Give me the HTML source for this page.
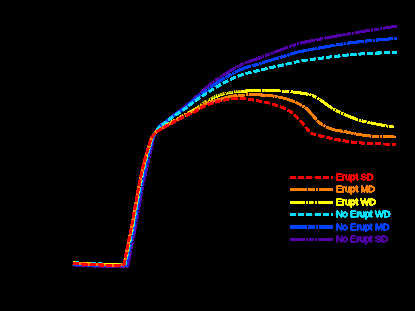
<!DOCTYPE html>
<html><head><meta charset="utf-8"><style>
html,body{margin:0;padding:0;background:#000;}
body{width:415px;height:311px;overflow:hidden;}
svg{display:block;}
text{font-family:"Liberation Sans",sans-serif;font-size:9.25px;}
</style></head><body>
<svg width="415" height="311" viewBox="0 0 415 311">
<defs><filter id="sat" filterUnits="userSpaceOnUse" x="0" y="0" width="415" height="311" color-interpolation-filters="sRGB"><feComponentTransfer><feFuncA type="linear" slope="10" intercept="0"/></feComponentTransfer></filter><filter id="sat2" filterUnits="userSpaceOnUse" x="0" y="0" width="415" height="311" color-interpolation-filters="sRGB"><feComponentTransfer><feFuncA type="linear" slope="6" intercept="0"/></feComponentTransfer></filter></defs>
<rect width="415" height="311" fill="#000"/>
<path d="M73.50,264.80 C76.25,264.97 84.75,265.52 90.00,265.80 C95.25,266.08 100.33,266.38 105.00,266.50 C109.67,266.62 114.20,266.53 118.00,266.50 C121.80,266.47 126.17,266.33 127.80,266.30 L127.80,266.30 C128.47,262.75 130.47,251.88 131.80,245.00 C133.13,238.12 134.33,232.83 135.80,225.00 C137.27,217.17 139.23,205.50 140.60,198.00 C141.97,190.50 142.75,186.00 144.00,180.00 C145.25,174.00 146.82,167.50 148.10,162.00 C149.38,156.50 150.80,151.00 151.70,147.00 C152.60,143.00 152.87,140.47 153.50,138.00 C154.13,135.53 154.42,134.23 155.50,132.20 C156.58,130.17 158.33,127.52 160.00,125.80 C161.67,124.08 163.67,123.33 165.50,121.90 C167.33,120.47 168.75,118.97 171.00,117.20 C173.25,115.43 176.53,113.17 179.00,111.30 C181.47,109.43 183.97,107.52 185.80,106.00 C187.63,104.48 187.75,104.22 190.00,102.20 C192.25,100.18 196.15,96.67 199.30,93.90 C202.45,91.13 205.45,88.38 208.90,85.60 C212.35,82.82 214.72,80.63 220.00,77.20 C225.28,73.77 233.93,68.27 240.60,65.00 C247.27,61.73 251.27,60.85 260.00,57.60 C268.73,54.35 285.50,48.08 293.00,45.50 C300.50,42.92 295.50,44.08 305.00,42.10 C314.50,40.12 334.75,36.25 350.00,33.60 C365.25,30.95 388.75,27.43 396.50,26.20" fill="none" stroke="#5500aa" stroke-width="2.2" stroke-dasharray="14.6 1.5 1.4 1.5 4.2 1.9 1.4 1.5" stroke-linejoin="round" filter="url(#sat)"/>
<path d="M73.50,264.10 C76.25,264.27 84.75,264.82 90.00,265.10 C95.25,265.38 100.33,265.68 105.00,265.80 C109.67,265.92 114.45,265.83 118.00,265.80 C121.55,265.77 124.92,265.63 126.30,265.60 L126.30,265.60 C126.97,262.17 128.97,251.77 130.30,245.00 C131.63,238.23 132.83,232.83 134.30,225.00 C135.77,217.17 137.73,205.50 139.10,198.00 C140.47,190.50 141.25,186.00 142.50,180.00 C143.75,174.00 145.27,167.50 146.60,162.00 C147.93,156.50 149.47,151.00 150.50,147.00 C151.53,143.00 151.92,140.43 152.75,138.00 C153.58,135.57 154.29,134.38 155.50,132.40 C156.71,130.42 158.33,127.78 160.00,126.10 C161.67,124.42 163.67,123.70 165.50,122.30 C167.33,120.90 168.75,119.43 171.00,117.70 C173.25,115.97 176.53,113.68 179.00,111.90 C181.47,110.12 183.97,108.43 185.80,107.00 C187.63,105.57 187.75,105.17 190.00,103.30 C192.25,101.43 196.15,98.25 199.30,95.80 C202.45,93.35 204.83,91.47 208.90,88.60 C212.97,85.73 218.42,81.77 223.70,78.60 C228.98,75.43 234.55,72.12 240.60,69.60 C246.65,67.08 251.27,66.18 260.00,63.50 C268.73,60.82 285.50,55.65 293.00,53.50 C300.50,51.35 295.50,52.37 305.00,50.60 C314.50,48.83 334.75,44.97 350.00,42.90 C365.25,40.83 388.75,38.98 396.50,38.20" fill="none" stroke="#0040ff" stroke-width="2.3" stroke-dasharray="16.6 1.5 6.4 1.5 1.5 1.5" stroke-linejoin="round" filter="url(#sat)"/>
<path d="M73.50,262.50 C76.25,262.67 84.75,263.22 90.00,263.50 C95.25,263.78 100.33,264.08 105.00,264.20 C109.67,264.32 114.65,264.23 118.00,264.20 C121.35,264.17 123.92,264.03 125.10,264.00 L125.10,264.00 C125.77,260.83 127.77,251.50 129.10,245.00 C130.43,238.50 131.63,232.83 133.10,225.00 C134.57,217.17 136.53,205.50 137.90,198.00 C139.27,190.50 140.05,186.00 141.30,180.00 C142.55,174.00 144.03,167.50 145.40,162.00 C146.77,156.50 148.42,151.00 149.54,147.00 C150.67,143.00 151.16,140.40 152.15,138.00 C153.14,135.60 154.19,134.53 155.50,132.60 C156.81,130.67 158.33,128.05 160.00,126.40 C161.67,124.75 163.67,124.07 165.50,122.70 C167.33,121.33 168.75,119.87 171.00,118.20 C173.25,116.53 176.53,114.37 179.00,112.70 C181.47,111.03 183.97,109.52 185.80,108.20 C187.63,106.88 187.75,106.50 190.00,104.80 C192.25,103.10 196.15,100.17 199.30,98.00 C202.45,95.83 204.83,94.30 208.90,91.80 C212.97,89.30 218.42,85.77 223.70,83.00 C228.98,80.23 234.55,77.33 240.60,75.20 C246.65,73.07 251.27,72.28 260.00,70.20 C268.73,68.12 285.50,64.35 293.00,62.70 C300.50,61.05 295.50,61.62 305.00,60.30 C314.50,58.98 334.75,56.15 350.00,54.80 C365.25,53.45 388.75,52.63 396.50,52.20" fill="none" stroke="#00e0ff" stroke-width="2.2" stroke-dasharray="5.5 2.72" stroke-linejoin="round" filter="url(#sat)"/>
<path d="M73.50,262.90 C76.25,263.07 84.75,263.62 90.00,263.90 C95.25,264.18 100.33,264.48 105.00,264.60 C109.67,264.72 114.78,264.63 118.00,264.60 C121.22,264.57 123.25,264.43 124.30,264.40 L124.30,264.40 C124.97,261.17 126.97,251.57 128.30,245.00 C129.63,238.43 130.83,232.83 132.30,225.00 C133.77,217.17 135.73,205.50 137.10,198.00 C138.47,190.50 139.25,186.00 140.50,180.00 C141.75,174.00 143.20,167.50 144.60,162.00 C146.00,156.50 147.71,151.00 148.90,147.00 C150.09,143.00 150.65,140.42 151.75,138.00 C152.85,135.58 154.12,133.95 155.50,132.50 C156.88,131.05 158.05,130.58 160.00,129.30 C161.95,128.02 163.48,127.02 167.20,124.80 C170.92,122.58 177.67,118.55 182.30,116.00 C186.93,113.45 190.88,112.03 195.00,109.50 C199.12,106.97 202.83,103.23 207.00,100.80 C211.17,98.37 215.17,96.42 220.00,94.90 C224.83,93.38 229.37,92.45 236.00,91.70 C242.63,90.95 251.42,90.45 259.80,90.40 C268.18,90.35 278.35,90.78 286.30,91.40 C294.25,92.02 302.17,92.90 307.50,94.10 C312.83,95.30 314.30,96.30 318.30,98.60 C322.30,100.90 327.08,105.25 331.50,107.90 C335.92,110.55 340.38,112.52 344.80,114.50 C349.22,116.48 353.58,118.38 358.00,119.80 C362.42,121.22 366.87,122.03 371.30,123.00 C375.73,123.97 380.62,124.90 384.60,125.60 C388.58,126.30 393.43,126.93 395.20,127.20" fill="none" stroke="#ffff00" stroke-width="2.2" stroke-dasharray="14.6 1.5 1.4 1.5 4.2 1.9 1.4 1.5" stroke-linejoin="round" filter="url(#sat)"/>
<path d="M73.50,263.30 C76.25,263.47 84.75,264.02 90.00,264.30 C95.25,264.58 100.33,264.88 105.00,265.00 C109.67,265.12 114.83,265.03 118.00,265.00 C121.17,264.97 123.00,264.83 124.00,264.80 L124.00,264.80 C124.67,261.50 126.67,251.63 128.00,245.00 C129.33,238.37 130.53,232.83 132.00,225.00 C133.47,217.17 135.43,205.50 136.80,198.00 C138.17,190.50 138.95,186.00 140.20,180.00 C141.45,174.00 142.89,167.50 144.30,162.00 C145.71,156.50 147.44,151.00 148.66,147.00 C149.88,143.00 150.46,140.38 151.60,138.00 C152.74,135.62 154.10,134.12 155.50,132.70 C156.90,131.28 158.05,130.75 160.00,129.50 C161.95,128.25 163.48,127.33 167.20,125.20 C170.92,123.07 177.67,119.15 182.30,116.70 C186.93,114.25 190.88,112.73 195.00,110.50 C199.12,108.27 202.83,105.15 207.00,103.30 C211.17,101.45 215.17,100.67 220.00,99.40 C224.83,98.13 229.37,96.45 236.00,95.70 C242.63,94.95 252.30,94.60 259.80,94.90 C267.30,95.20 274.80,96.17 281.00,97.50 C287.20,98.83 292.58,100.90 297.00,102.90 C301.42,104.90 304.83,107.35 307.50,109.50 C310.17,111.65 310.75,113.42 313.00,115.80 C315.25,118.18 317.92,121.60 321.00,123.80 C324.08,126.00 327.53,127.68 331.50,129.00 C335.47,130.32 340.38,130.80 344.80,131.70 C349.22,132.60 353.58,133.65 358.00,134.40 C362.42,135.15 365.10,135.77 371.30,136.20 C377.50,136.63 391.22,136.87 395.20,137.00" fill="none" stroke="#ff8000" stroke-width="2.2" stroke-dasharray="16.6 1.5 6.4 1.5 1.5 1.5" stroke-linejoin="round" filter="url(#sat)"/>
<path d="M73.50,263.50 C76.25,263.67 84.75,264.22 90.00,264.50 C95.25,264.78 100.33,265.08 105.00,265.20 C109.67,265.32 114.87,265.23 118.00,265.20 C121.13,265.17 122.83,265.03 123.80,265.00 L123.80,265.00 C124.47,261.67 126.47,251.67 127.80,245.00 C129.13,238.33 130.33,232.83 131.80,225.00 C133.27,217.17 135.23,205.50 136.60,198.00 C137.97,190.50 138.75,186.00 140.00,180.00 C141.25,174.00 142.68,167.50 144.10,162.00 C145.52,156.50 147.27,151.00 148.50,147.00 C149.73,143.00 150.33,140.33 151.50,138.00 C152.67,135.67 154.08,134.37 155.50,133.00 C156.92,131.63 158.05,131.00 160.00,129.80 C161.95,128.60 163.48,127.85 167.20,125.80 C170.92,123.75 177.67,119.88 182.30,117.50 C186.93,115.12 190.88,113.58 195.00,111.50 C199.12,109.42 202.83,106.75 207.00,105.00 C211.17,103.25 215.17,102.12 220.00,101.00 C224.83,99.88 230.25,98.43 236.00,98.30 C241.75,98.17 248.33,99.22 254.50,100.20 C260.67,101.18 267.25,102.43 273.00,104.20 C278.75,105.97 284.57,108.17 289.00,110.80 C293.43,113.43 296.52,116.90 299.60,120.00 C302.68,123.10 305.43,127.13 307.50,129.40 C309.57,131.67 310.25,132.58 312.00,133.60 C313.75,134.62 314.75,134.70 318.00,135.50 C321.25,136.30 327.03,137.48 331.50,138.40 C335.97,139.32 340.38,140.30 344.80,141.00 C349.22,141.70 353.58,142.15 358.00,142.60 C362.42,143.05 365.10,143.43 371.30,143.70 C377.50,143.97 391.22,144.12 395.20,144.20" fill="none" stroke="#ff0000" stroke-width="2.2" stroke-dasharray="5.5 2.72" stroke-linejoin="round" filter="url(#sat)"/>
<path d="M199.6,103.60 V106.40 M201.8,101.83 V104.63 M204.1,100.12 V102.92 M206.3,98.59 V101.39 M208.6,97.29 V100.09 M210.8,96.08 V98.88 M213.1,94.98 V97.78 M215.3,93.99 V96.79 M217.6,93.11 V95.91 M219.8,92.35 V95.15 M222.1,91.67 V94.47 M224.3,91.08 V93.88 M226.6,90.56 V93.36 M228.8,90.12 V92.92 M231.1,89.75 V92.55 M233.3,89.42 V92.22 M235.6,89.15 V91.95 M237.8,88.90 V91.70 M240.1,88.69 V91.49" fill="none" stroke="#000" stroke-width="0.9"/>
<line x1="290.3" y1="177.5" x2="332.8" y2="177.5" stroke="#ff0000" stroke-width="2.1" stroke-dasharray="5.3 2.92" filter="url(#sat)"/>
<text x="335.9" y="180.0" fill="#ff0000" stroke="#ff0000" stroke-width="0.4" stroke-linejoin="round" filter="url(#sat2)">Erupt SD</text>
<line x1="290.3" y1="189.5" x2="332.8" y2="189.5" stroke="#ff8000" stroke-width="2.1" stroke-dasharray="16.2 1.9 6.0 1.9 1.1 1.9" filter="url(#sat)"/>
<text x="335.9" y="192.0" fill="#ff8000" stroke="#ff8000" stroke-width="0.4" stroke-linejoin="round" filter="url(#sat2)">Erupt MD</text>
<line x1="290.3" y1="202.5" x2="332.8" y2="202.5" stroke="#ffff00" stroke-width="2.1" stroke-dasharray="14.2 1.9 1.0 1.9 3.8 2.3 1.0 1.9" filter="url(#sat)"/>
<text x="335.9" y="205.0" fill="#ffff00" stroke="#ffff00" stroke-width="0.4" stroke-linejoin="round" filter="url(#sat2)">Erupt WD</text>
<line x1="290.3" y1="214.5" x2="332.8" y2="214.5" stroke="#00e0ff" stroke-width="2.1" stroke-dasharray="5.3 2.92" filter="url(#sat)"/>
<text x="335.9" y="217.0" fill="#00e0ff" stroke="#00e0ff" stroke-width="0.4" stroke-linejoin="round" filter="url(#sat2)">No Erupt WD</text>
<line x1="290.3" y1="227.0" x2="332.8" y2="227.0" stroke="#0040ff" stroke-width="2.8" stroke-dasharray="16.2 1.9 6.0 1.9 1.1 1.9" filter="url(#sat)"/>
<text x="335.9" y="229.5" fill="#0040ff" stroke="#0040ff" stroke-width="0.4" stroke-linejoin="round" filter="url(#sat2)">No Erupt MD</text>
<line x1="290.3" y1="239.5" x2="332.8" y2="239.5" stroke="#5500aa" stroke-width="2.1" stroke-dasharray="14.2 1.9 1.0 1.9 3.8 2.3 1.0 1.9" filter="url(#sat)"/>
<text x="335.9" y="242.0" fill="#5500aa" stroke="#5500aa" stroke-width="0.4" stroke-linejoin="round" filter="url(#sat2)">No Erupt SD</text>
</svg>
</body></html>
